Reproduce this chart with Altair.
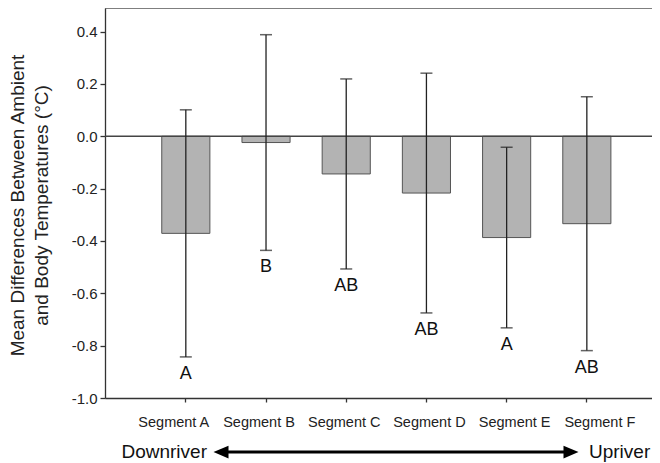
import altair as alt
import pandas as pd

# ---- data ----
segments = ["Segment A", "Segment B", "Segment C", "Segment D", "Segment E", "Segment F"]
means = [-0.371, -0.024, -0.144, -0.217, -0.387, -0.334]
errors = [0.472, 0.412, 0.363, 0.458, 0.345, 0.485]
letters = ["A", "B", "AB", "AB", "A", "AB"]
y_ticks = [-1.0, -0.8, -0.6, -0.4, -0.2, 0.0, 0.2, 0.4]
y_title = ["Mean Differences Between Ambient", "and Body Temperatures (°C)"]
direction_labels = ["Downriver", "Upriver"]

df = pd.DataFrame({"segment": segments, "mean": means, "err": errors, "letter": letters})
df["lo"] = df["mean"] - df["err"]
df["hi"] = df["mean"] + df["err"]

W, H = 547, 390
FONT = "Liberation Sans"
INK = "#222222"

y_scale = alt.Scale(domain=[-1.0, 0.49], nice=False, zero=False)
x_scale = alt.Scale(paddingInner=0.4, paddingOuter=0.61, align=0.58)

x_axis = alt.Axis(
    title=None, labelAngle=0, labelFontSize=14.5,
    labelPadding=13, tickSize=4,
    labelOverlap=False, labelOffset=alt.ExprRef(expr="-12 + 25 * datum.index"),
    domainWidth=1.3, tickWidth=1.3,
)
y_axis = alt.Axis(
    values=y_ticks,
    labelExpr="replace(format(datum.value, '.1f'), '\u2212', '-')",
    tickSize=5, labelPadding=3, labelFontSize=15,
    title=y_title, titleFontSize=19, titleFontWeight="normal", titleLineHeight=24,
    titleAngle=270, titleAlign="center", titleBaseline="alphabetic",
    titleX=-82, titleY=197, grid=False, domainWidth=1.3, tickWidth=1.3,
)

base = alt.Chart(df)
x_enc = alt.X("segment:N", sort=segments, scale=x_scale, axis=x_axis)

bars = base.mark_bar(color="#b3b3b3", stroke="#555555", strokeWidth=1).encode(
    x=x_enc,
    y=alt.Y("mean:Q", scale=y_scale, axis=y_axis),
    y2=alt.datum(0),
)

zero_line = alt.Chart(pd.DataFrame({"v": [0.0]})).mark_rule(color="#444444", strokeWidth=1.3).encode(
    y=alt.Y("v:Q", scale=y_scale)
)

err_rule = base.mark_rule(color=INK, strokeWidth=1.3).encode(
    x=alt.X("segment:N", sort=segments), y="lo:Q", y2="hi:Q"
)
cap_lo = base.mark_tick(color=INK, thickness=1.5, size=12).encode(
    x=alt.X("segment:N", sort=segments), y="lo:Q"
)
cap_hi = base.mark_tick(color=INK, thickness=1.5, size=12).encode(
    x=alt.X("segment:N", sort=segments), y="hi:Q"
)
letter_text = base.mark_text(fontSize=18, baseline="top", dy=8, color="#111111").encode(
    x=alt.X("segment:N", sort=segments), y="lo:Q", text="letter:N"
)

one = pd.DataFrame({"k": [0]})
top_line = alt.Chart(one).mark_rule(color="#555555", strokeWidth=1.3).encode(y=alt.value(0))

arrow_line = alt.Chart(one).mark_rule(color="black", strokeWidth=3).encode(
    x=alt.value(116), x2=alt.value(466), y=alt.value(444)
)
head_left = alt.Chart(one).mark_point(
    shape="M-1,0L1,-0.85L1,0.85Z", filled=True, size=225, color="black", opacity=1
).encode(x=alt.value(116), y=alt.value(444))
head_right = alt.Chart(one).mark_point(
    shape="M1,0L-1,-0.85L-1,0.85Z", filled=True, size=225, color="black", opacity=1
).encode(x=alt.value(466), y=alt.value(444))
down_text = alt.Chart(one).mark_text(
    align="right", baseline="alphabetic", fontSize=19, color="#111111"
).encode(x=alt.value(102), y=alt.value(450), text=alt.value(direction_labels[0]))
up_text = alt.Chart(one).mark_text(
    align="left", baseline="alphabetic", fontSize=19, color="#111111"
).encode(x=alt.value(484), y=alt.value(450), text=alt.value(direction_labels[1]))

chart = alt.layer(
    bars, zero_line, err_rule, cap_lo, cap_hi, letter_text, top_line,
    arrow_line, head_left, head_right, down_text, up_text,
).properties(
    width=W, height=H, autosize="none",
    padding={"left": 97, "top": 0, "right": 0, "bottom": 65},
).configure(font=FONT).configure_view(stroke=None).configure_axis(
    domainColor="#333333", tickColor="#333333", labelColor=INK, titleColor=INK,
)

chart.save("out.html", embed_options={"renderer": "svg", "actions": False})
